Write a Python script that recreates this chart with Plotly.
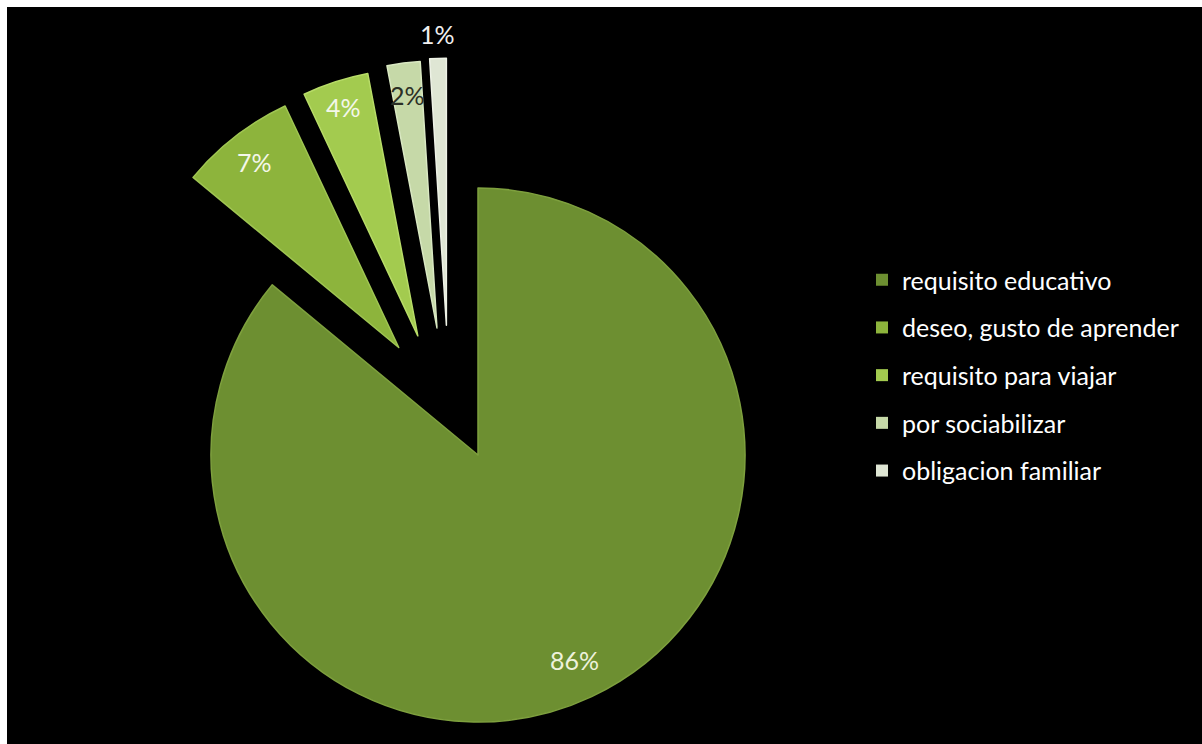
import math
import plotly.graph_objects as go

# Motivos para aprender (porcentaje de respuestas)
categories = [
    "requisito educativo",
    "deseo, gusto de aprender",
    "requisito para viajar",
    "por sociabilizar",
    "obligacion familiar",
]
values = [86, 7, 4, 2, 1]

# Estilo de cada porción
slice_colors = ["#6d8f31", "#8db43c", "#a3cb4f", "#c6d9a8", "#dfe6d4"]
rim_colors = ["#7ea03e", "#a0c653", "#b8dc68", "#d9e8c2", "#eef2e6"]
label_colors = ["#eef2dc", "#f4f7ea", "#f4f7ea", "#2b2f25", "#f0f0f0"]
label_radius = [0.85, 0.88, 0.9, 0.88, 1.09]   # fracción del radio, sobre el ángulo medio

# Geometría (px) del pastel y separación de las porciones pequeñas
W, H = 1202, 744
PIE_CX, PIE_CY, PIE_R = 478, 455, 267
explode_frac = [0.0, 0.5, 0.5, 0.5, 0.5]            # fracción del radio
explode_dir_deg = [0.0, -36.4, -26.8, -17.9, -13.7]  # desde las 12, sentido horario

total = sum(values)
fig = go.Figure()
annotations = []

cum = 0.0
for k, cat in enumerate(categories):
    d = explode_frac[k] * PIE_R
    a = math.radians(explode_dir_deg[k])
    cx = PIE_CX + d * math.sin(a)
    cy = PIE_CY - d * math.cos(a)
    domain_x = [(cx - PIE_R) / W, (cx + PIE_R) / W]
    domain_y = [1 - (cy + PIE_R) / H, 1 - (cy - PIE_R) / H]

    colors = ["rgba(0,0,0,0)"] * len(values)
    colors[k] = slice_colors[k]
    line_w = [0] * len(values)
    line_w[k] = 1.5
    line_c = ["rgba(0,0,0,0)"] * len(values)
    line_c[k] = rim_colors[k]

    fig.add_trace(go.Pie(
        labels=categories,
        values=values,
        sort=False,
        direction="clockwise",
        rotation=0,
        domain=dict(x=domain_x, y=domain_y),
        marker=dict(colors=colors, line=dict(width=line_w, color=line_c)),
        textinfo="none",
        showlegend=False,
        hoverinfo="label+percent",
    ))

    # Etiqueta de porcentaje sobre el ángulo medio de la porción
    share = values[k] / total
    mid = 2 * math.pi * (cum + share / 2)
    cum += share
    lx = cx + label_radius[k] * PIE_R * math.sin(mid)
    ly = cy - label_radius[k] * PIE_R * math.cos(mid)
    annotations.append(dict(
        x=lx / W, y=1 - ly / H, xref="paper", yref="paper",
        text=f"{share:.0%}", showarrow=False,
        xanchor="center", yanchor="middle",
        font=dict(family="Lato", size=25, color=label_colors[k]),
    ))

# Leyenda: un elemento por categoría
for k, cat in enumerate(categories):
    fig.add_trace(go.Scatter(
        x=[None], y=[None],
        mode="markers",
        name=cat,
        legendgroup=cat,
        marker=dict(symbol="square", size=12, color=slice_colors[k]),
        showlegend=True,
        hoverinfo="skip",
    ))

fig.update_layout(
    width=W,
    height=H,
    margin=dict(l=0, r=0, t=0, b=0),
    paper_bgcolor="#000000",
    plot_bgcolor="rgba(0,0,0,0)",
    xaxis=dict(visible=False),
    yaxis=dict(visible=False),
    font=dict(family="Lato", color="#ffffff"),
    legend=dict(
        x=862 / W,
        y=1 - 257 / H,
        xanchor="left",
        yanchor="top",
        bgcolor="rgba(0,0,0,0)",
        font=dict(family="Lato", size=25, color="#ffffff"),
        tracegroupgap=12.2,
        itemclick=False,
        itemdoubleclick=False,
    ),
    annotations=annotations,
    shapes=[
        dict(type="rect", xref="paper", yref="paper", x0=0, x1=7 / W, y0=0, y1=1,
             fillcolor="#ffffff", line=dict(width=0), layer="above"),
        dict(type="rect", xref="paper", yref="paper", x0=0, x1=1, y0=1 - 7 / H, y1=1,
             fillcolor="#ffffff", line=dict(width=0), layer="above"),
    ],
)

fig.write_html("out.html")
